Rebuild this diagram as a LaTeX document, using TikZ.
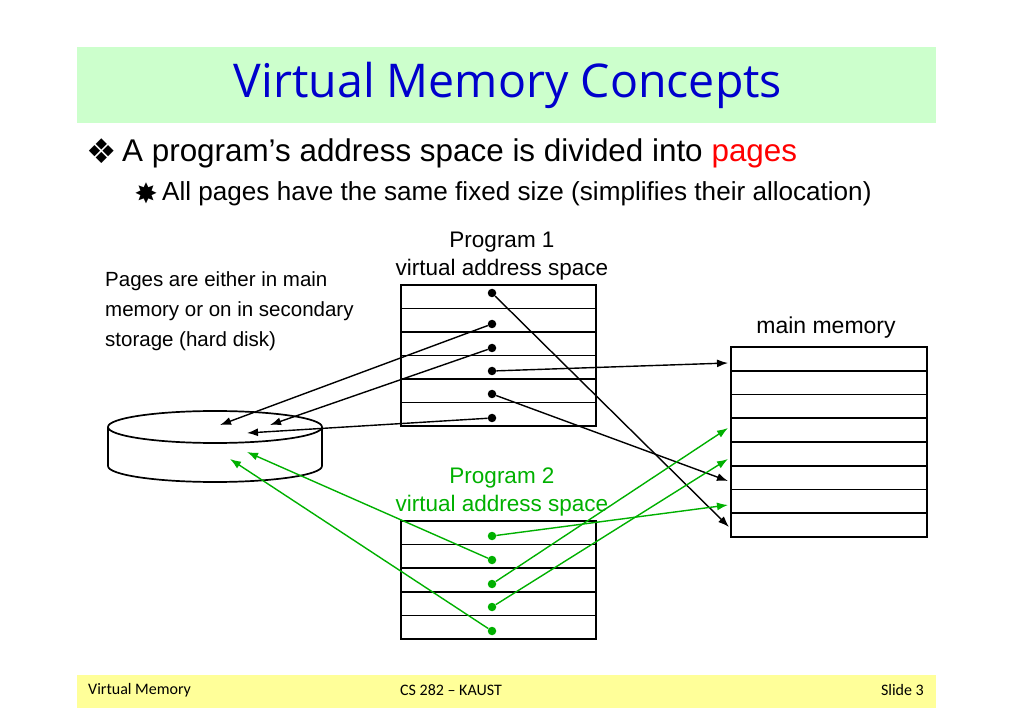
\documentclass[tikz,border=0pt]{standalone}
\usepackage{fontspec}
\setmainfont{Liberation Sans}
\newfontfamily\titlefont{Open Sans}
\newfontfamily\dingfont{DejaVu Sans}
\newfontfamily\footfont{Carlito}
\usepackage{tikz}
\usetikzlibrary{arrows.meta,positioning}
\definecolor{titlebg}{RGB}{204,255,204}
\definecolor{titleblue}{RGB}{0,0,204}
\definecolor{footbg}{RGB}{255,255,153}
\definecolor{pgreen}{RGB}{0,176,0}

\begin{document}
\begin{tikzpicture}[
				x = 1pt, y = -1pt,
				every node/.style = {inner sep = 0pt},
				pdot/.style = {circle, fill = black, minimum size = 8.5pt},
				gdot/.style = {pdot, fill = pgreen},
				link/.style = {line width = 1.4pt, -{Latex[length = 11pt, width = 8pt]}},
				glink/.style = {link, pgreen},
				frame/.style = {line width = 1.7pt}
			]

			\useasboundingbox (0,0) rectangle (1023,708);
			\fill[titlebg] (77,47) rectangle (936,123);
			\fill[footbg] (77,675) rectangle (936,708);

			\node[titleblue, font = \titlefont\fontsize{46.5}{50}\selectfont] (title) at (508,85) {Virtual Memory Concepts};

			\node[anchor = base west, font = \fontsize{31.4}{36}\selectfont] (bullet) at (122,162) {A program’s address space is divided into \textcolor{red}{pages}};
			\node[font = \dingfont\fontsize{34}{36}\selectfont] (diamonds) at (101.5,151) {❖};
			\node[anchor = base west, font = \fontsize{26.1}{30}\selectfont] (subbullet) at (162,201) {All pages have the same fixed size (simplifies their allocation)};
			\node[font = \dingfont\fontsize{28}{30}\selectfont] (star) at (146,193) {✸};

			\node[anchor = west, align = left, font = \fontsize{20.5}{30}\selectfont] (note) at (105,311) {Pages are either in main\\memory or on in secondary\\storage (hard disk)};

			\node[align = center, font = \fontsize{22.5}{28}\selectfont] (prog1) at (502,256) {Program 1\\virtual address space};
			\node[align = center, pgreen, font = \fontsize{22.5}{28}\selectfont] (prog2) at (502,492) {Program 2\\virtual address space};
			\node[font = \fontsize{23}{28}\selectfont] (mainmem) at (826,328) {main memory};

			\draw[frame] (401,285) rectangle (596,426);
			\foreach \y in {308.5,332,355.5,379,402.5}
				\draw[frame] (401,\y) -- (596,\y);
			\draw[frame] (401,521) rectangle (596,639);
			\foreach \i in {1,...,4}
				\draw[frame] (401,{521+23.6*\i}) -- (596,{521+23.6*\i});
			\draw[frame] (731,347) rectangle (927,537);
			\foreach \i in {1,...,7}
				\draw[frame] (731,{347+23.75*\i}) -- (927,{347+23.75*\i});

			\draw[frame, fill = white] (108,427) -- (108,466) arc[start angle = 180, end angle = 0, x radius = 107, y radius = 16] -- (322,427);
			\draw[frame] (215,427) ellipse[x radius = 107, y radius = 16];

			\node[pdot] (a1) at (492,293) {};
			\node[pdot] (a2) at (492,324) {};
			\node[pdot] (a3) at (492,348) {};
			\node[pdot] (a4) at (492,371) {};
			\node[pdot] (a5) at (492,394) {};
			\node[pdot] (a6) at (492,418) {};
			\node[gdot] (b1) at (492,536) {};
			\node[gdot] (b2) at (492,560) {};
			\node[gdot] (b3) at (492,584) {};
			\node[gdot] (b4) at (492,607) {};
			\node[gdot] (b5) at (492,631) {};

			\coordinate (m1) at (728,363);
			\coordinate (m4) at (728,428);
			\coordinate (m5) at (728,459);
			\coordinate (m6) at (728,481);
			\coordinate (m7) at (728,505);
			\coordinate (m8) at (729,527);
			\coordinate (d1) at (220,425);
			\coordinate (d2) at (270,425);
			\coordinate (d3) at (247,433);
			\coordinate (d4) at (247,452);
			\coordinate (d5) at (230,459);

			\draw[link] (a1) -- (m8);
			\draw[link] (a2) -- (d1);
			\draw[link] (a3) -- (d2);
			\draw[link] (a4) -- (m1);
			\draw[link] (a5) -- (m6);
			\draw[link] (a6) -- (d3);
			\draw[glink] (b1) -- (m7);
			\draw[glink] (b2) -- (d4);
			\draw[glink] (b3) -- (m4);
			\draw[glink] (b4) -- (m5);
			\draw[glink] (b5) -- (d5);

			\node[anchor = west, font = \footfont\fontsize{16}{18}\selectfont] (footleft) at (88,690) {Virtual Memory};
			\node[font = \footfont\fontsize{16}{18}\selectfont] (footmid) at (451,690) {CS 282 – KAUST};
			\node[anchor = east, font = \footfont\fontsize{16}{18}\selectfont] (footright) at (924,690) {Slide 3};

			\end{tikzpicture}
\end{document}
